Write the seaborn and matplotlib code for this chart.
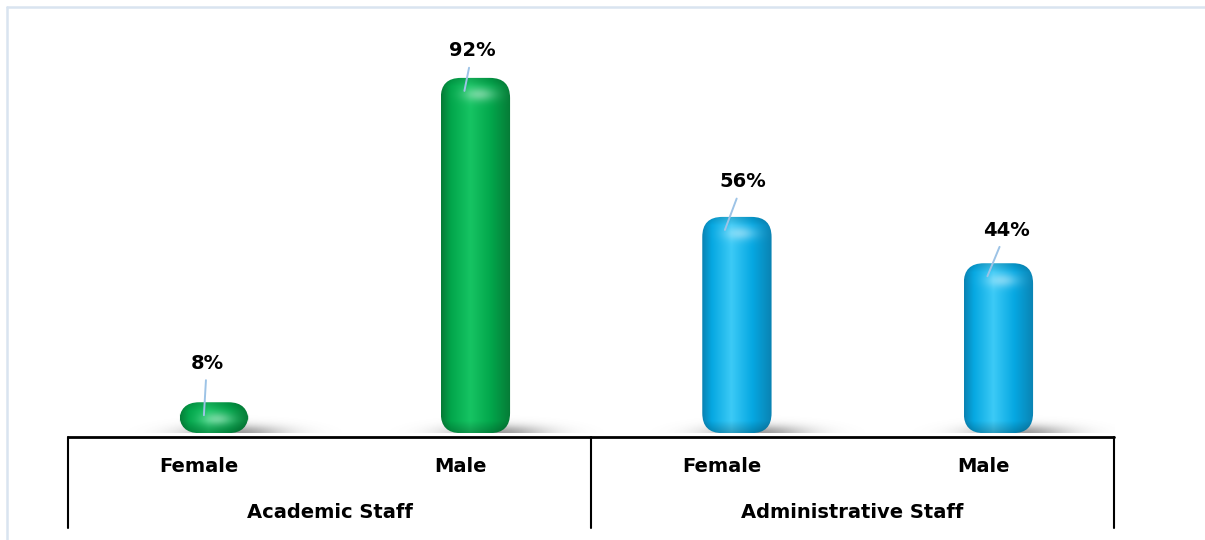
import numpy as np
import pandas as pd
import matplotlib
matplotlib.use("Agg")
import matplotlib.pyplot as plt
import seaborn as sns
from matplotlib.patches import FancyBboxPatch
from matplotlib.lines import Line2D
from matplotlib.transforms import offset_copy, blended_transform_factory

# ---- data -------------------------------------------------------------
groups = ["Academic Staff", "Academic Staff", "Administrative Staff", "Administrative Staff"]
genders = ["Female", "Male", "Female", "Male"]
values = [8, 92, 56, 44]
group_names = ["Academic Staff", "Administrative Staff"]

# ---- styling ----------------------------------------------------------
base_colors = {"Academic Staff": "#00b050", "Administrative Staff": "#00b0f0"}
shades = {
    "Academic Staff": ("#067a36", "#02a64b", "#16c463"),
    "Administrative Staff": ("#0a82b2", "#06a8e2", "#3ccaf6"),
}
leader_end_dx = [-10, -11, -12, -11]          # px, end of leader line relative to bar centre
label_offset = [(3, 52), (8, 40), (18, 48), (19, 46)]  # px, label centre relative to line end
leader_color = "#9dc3e6"
FONT_SIZE = 14

sns.set_theme(style="white")
plt.rcParams["font.family"] = ["DejaVu Sans"]
plt.rcParams["text.color"] = "black"

W_PX, H_PX = 1205, 540
fig = plt.figure(figsize=(W_PX / 100, H_PX / 100), dpi=100)
ax_left, ax_right, ax_base, ax_top = 68, 1114, 437, 47
ax = fig.add_axes([ax_left / W_PX, (H_PX - ax_base) / H_PX,
                   (ax_right - ax_left) / W_PX, (ax_base - ax_top) / H_PX])

df = pd.DataFrame({"key": [f"{g}|{s}" for g, s in zip(groups, genders)],
                   "group": groups, "gender": genders, "value": values})
sns.barplot(data=df, x="key", y="value", hue="group", palette=base_colors,
            dodge=False, width=0.265, legend=False, ax=ax)

XMIN, XMAX = -0.558, 3.442
YMIN, YMAX = -1, 100
ax.set_xlim(XMIN, XMAX)
ax.set_ylim(YMIN, YMAX)
px_per_x = (ax_right - ax_left) / (XMAX - XMIN)
px_per_y = (ax_base - ax_top) / (YMAX - YMIN)
aspect = px_per_x / px_per_y


def interp_colors(stops, cols, t):
    cols = np.array([matplotlib.colors.to_rgb(c) for c in cols])
    return np.stack([np.interp(t, stops, cols[:, k]) for k in range(3)], axis=-1)


def bar_shading(dark, mid, light, w_px, h_px):
    nx = max(int(w_px * 2), 4)
    ny = max(int(h_px * 2), 4)
    xs = np.linspace(0, 1, nx)
    ys = np.linspace(h_px, 0, ny)
    prof = interp_colors([0, 0.14, 0.42, 0.72, 1.0], [dark, mid, light, mid, dark], xs)
    img = np.tile(prof[None, :, :], (ny, 1, 1))
    # soft glint on the rounded top
    gy = (ys[:, None] - (h_px - 17)) / 7.0
    gx = (xs[None, :] * w_px - 0.55 * w_px) / 16.0
    glow = 0.40 * np.exp(-(gx ** 2 + gy ** 2))
    img = img + (1 - img) * glow[..., None]
    # slightly darker rim along the top edge
    rim = np.clip(1 - (h_px - ys) / 9.0, 0, 1)[:, None] * 0.15
    img = img * (1 - rim[..., None])
    # darker rounded bottom
    bot = np.clip(1 - ys / 12.0, 0, 1)[:, None] * 0.22
    img = img * (1 - bot[..., None])
    return np.clip(img, 0, 1)


bars = sorted([p for p in ax.patches if p.get_height() > 0], key=lambda p: p.get_x())
for i, p in enumerate(bars):
    x0, w, h = p.get_x(), p.get_width(), p.get_height()
    cx = x0 + w / 2
    p.set_visible(False)
    g = groups[i]
    w_px, h_px = w * px_per_x, h * px_per_y

    # floor shadow
    sx0, sx1 = x0 - 70 / px_per_x, x0 + w + 100 / px_per_x
    sh_h = 26 / px_per_y
    xs = np.linspace(sx0, sx1, 300)
    ys = np.linspace(sh_h, 0, 50)
    dxp = (xs[None, :] - (cx + 0.3 * w)) * px_per_x / 48.0
    dyp = (ys[:, None]) * px_per_y / 8.0
    alpha = 0.6 * np.exp(-dxp ** 2) * np.exp(-dyp ** 2)
    sh = np.zeros((50, 300, 4))
    sh[..., :3] = 0.35
    sh[..., 3] = alpha
    ax.imshow(sh, extent=(sx0, sx1, 0, sh_h), aspect="auto", origin="upper",
              zorder=2, interpolation="bilinear")

    # rounded bar body with shading
    r = min(20 / px_per_x, 0.5 * w)
    body = FancyBboxPatch((x0, 0), w, h,
                          boxstyle=f"round,pad=0,rounding_size={r}",
                          mutation_aspect=aspect, facecolor="none",
                          edgecolor="none", zorder=3)
    ax.add_patch(body)
    dark, mid, light = shades[g]
    im = ax.imshow(bar_shading(dark, mid, light, w_px, h_px),
                   extent=(x0, x0 + w, 0, h), aspect="auto", origin="upper",
                   zorder=3, interpolation="bilinear")
    im.set_clip_path(body)

    # value label with leader line
    end = offset_copy(ax.transData, fig=fig, x=leader_end_dx[i],
                      y=-13, units="dots")
    ax.annotate(f"{values[i]}%", xy=(cx, h), xycoords=end,
                xytext=label_offset[i], textcoords="offset pixels",
                ha="center", va="center", fontsize=FONT_SIZE, fontweight="bold",
                color="black", zorder=5,
                arrowprops=dict(arrowstyle="-", color=leader_color, lw=1.4,
                                shrinkA=3, shrinkB=0))

ax.set_xlim(XMIN, XMAX)
ax.set_ylim(YMIN, YMAX)
ax.set_axis_off()

# multi-level category axis
trans = blended_transform_factory(ax.transData, ax.transAxes)
axis_h = ax_base - ax_top
ax.plot([XMIN, XMAX], [0, 0], transform=trans, color="black", lw=2,
        clip_on=False, zorder=4)
div_bottom = -(528 - ax_base) / axis_h
for xd in [XMIN, XMIN + 2, XMAX]:
    ax.plot([xd, xd], [0, div_bottom], transform=trans, color="black",
            lw=1.5, clip_on=False, zorder=4)

cat_shift = -0.058
for i, s in enumerate(genders):
    ax.text(i + cat_shift, -(467 - ax_base) / axis_h, s, transform=trans,
            ha="center", va="center", fontsize=FONT_SIZE, fontweight="bold",
            color="black")
for j, gname in enumerate(group_names):
    ax.text(2 * j + 0.5 + cat_shift, -(513 - ax_base) / axis_h, gname,
            transform=trans, ha="center", va="center", fontsize=FONT_SIZE,
            fontweight="bold", color="black")

# light chart-area frame
frame_c = "#d9e4f0"
fig.add_artist(Line2D([7 / W_PX, 1], [1 - 7 / H_PX] * 2, color=frame_c, lw=1.8,
                      transform=fig.transFigure))
fig.add_artist(Line2D([7 / W_PX] * 2, [0, 1 - 7 / H_PX], color=frame_c, lw=1.8,
                      transform=fig.transFigure))

fig.savefig("out.png", dpi=100, facecolor="white")
